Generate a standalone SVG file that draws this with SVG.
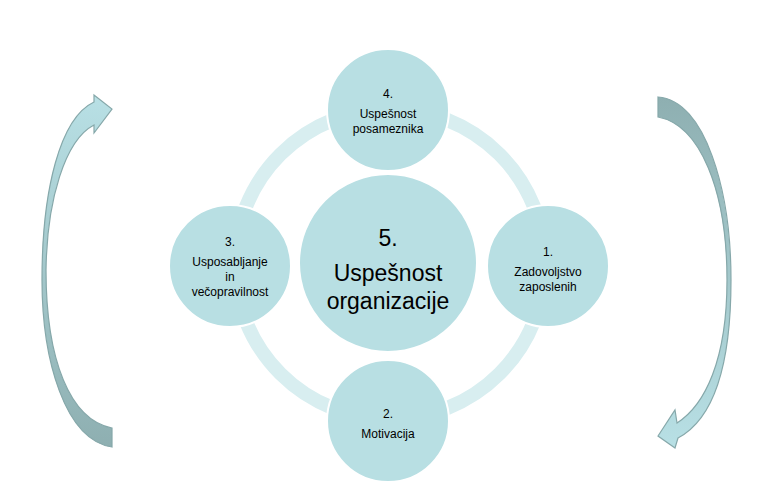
<svg xmlns="http://www.w3.org/2000/svg" width="757" height="503" viewBox="0 0 757 503">
<style>
text{font-family:"Liberation Sans",Arial,sans-serif;fill:#000;text-anchor:middle}
.s{font-size:12px}
.b{font-size:23px}
.c{fill:#b8dfe3;stroke:#fff;stroke-width:2}
.ar{stroke:#86a8aa;stroke-width:1.2}
</style>
<defs>
<linearGradient id="gl" x1="0" y1="0" x2="0" y2="1"><stop offset="0" stop-color="#b8e0e5"/><stop offset="1" stop-color="#8eafb1"/></linearGradient>
<linearGradient id="gr" x1="0" y1="0" x2="0" y2="1"><stop offset="0" stop-color="#8eafb1"/><stop offset="1" stop-color="#b8e0e5"/></linearGradient>
</defs>
<rect width="757" height="503" fill="#fff"/>
<g id="connectors">
<circle cx="390" cy="264" r="155" fill="none" stroke="#d8eef0" stroke-width="14"/>
<path class="ar" fill="url(#gl)" d="M112,447 C65,440 42,360 42,280 C42,190 60,118 94,102 L94,95 L112,109 L94,133 L94,125 C65,140 47,200 46,270 C46,360 70,420 112,428 Z"/>
<path class="ar" fill="url(#gr)" d="M658,97 C705,100 731,190 731,280 C731,370 712,420 678,438 L675,448 L658,436 L675,410 L677,423 C705,405 727,360 727,280 C727,190 700,125 658,117 Z"/>
</g>
<g id="n4"><circle class="c" cx="388" cy="110" r="61"/><text class="s" x="388" y="98">4.</text><text class="s" x="388" y="118">Uspešnost</text><text class="s" x="388" y="133">posameznika</text></g>
<g id="n3"><circle class="c" cx="230" cy="266" r="61"/><text class="s" x="230" y="246">3.</text><text class="s" x="230" y="266">Usposabljanje</text><text class="s" x="230" y="281">in</text><text class="s" x="230" y="296">večopravilnost</text></g>
<g id="n1"><circle class="c" cx="548" cy="266" r="61"/><text class="s" x="548" y="256">1.</text><text class="s" x="548" y="276">Zadovoljstvo</text><text class="s" x="548" y="291">zaposlenih</text></g>
<g id="n2"><circle class="c" cx="388" cy="421" r="61"/><text class="s" x="388" y="418">2.</text><text class="s" x="388" y="438">Motivacija</text></g>
<g id="n5"><circle class="c" cx="388" cy="263" r="89"/><text class="b" x="388" y="246">5.</text><text class="b" x="388" y="281">Uspešnost</text><text class="b" x="388" y="309">organizacije</text></g>
</svg>
